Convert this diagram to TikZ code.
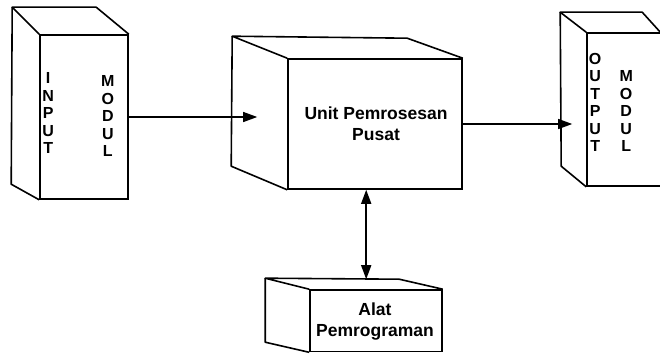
\documentclass[tikz,border=0pt]{standalone}
\usepackage{fontspec}
\setmainfont{Liberation Sans}
\usetikzlibrary{arrows.meta,positioning,calc}
\tikzset{
  face/.style={draw,line width=1.6pt,fill=white,inner sep=0pt},
  side/.style={draw,line width=1.6pt,line join=round},
  label/.style={font=\bfseries\fontsize{17.5}{21}\selectfont,align=center,inner sep=0pt},
  letters/.style={font=\bfseries\fontsize{16}{17.5}\selectfont,align=center,inner sep=0pt},
  flow/.style={-{Triangle[length=14pt,width=10pt]},line width=1.2pt},
  both/.style={{Triangle[length=14pt,width=10pt]}-{Triangle[length=14pt,width=10pt]},line width=1.6pt}
}
\begin{document}
\begin{tikzpicture}[x=1pt,y=-1pt]
  \clip (0,0) rectangle (660,353);
  % input module
  \node[face,minimum width=88pt,minimum height=164pt] (input) at (84,117) {};
  \draw[side] (input.north west) -- ++(-27,-27) -- ++(84,0) -- (input.north east);
  \draw[side] (input.north west) ++(-27,-27) -- ++(-1,177) -- (input.south west);
  \node[letters] (inword) at ($(input.west)+(9,-4)$) {I\\N\\P\\U\\T};
  \node[letters] (inmodul) at ($(input.east)+(-21,-1)$) {M\\O\\D\\U\\L};
  % central processing unit
  \node[face,minimum width=174pt,minimum height=130pt] (cpu) at (375,124) {};
  \draw[side] (cpu.north west) -- ++(-55,-22) -- ++(175,2) -- (cpu.north east);
  \draw[side] (cpu.north west) ++(-55,-22) -- ++(-1,130) -- (cpu.south west);
  \node[label] (cpulbl) at ($(cpu.center)+(1,0)$) {Unit Pemrosesan\\Pusat};
  % output module
  \node[face,minimum width=113pt,minimum height=153pt] (output) at (643.5,109.5) {};
  \draw[side] (output.north west) -- ++(-26,-20) -- ++(82,0) -- ++(19,21);
  \draw[side] (output.north west) ++(-26,-20) -- ++(1,154) -- (output.south west);
  \node[letters] (outword) at ($(output.north west)+(9,70)$) {O\\U\\T\\P\\U\\T};
  \node[letters] (outmodul) at ($(output.north west)+(40,79)$) {M\\O\\D\\U\\L};
  % programming device
  \node[face,minimum width=132pt,minimum height=61.5pt] (prog) at (376,320.75) {};
  \draw[side] (prog.north west) -- ++(-44,-11) -- ++(134,1) -- (prog.north east);
  \draw[side] (prog.north west) ++(-44,-11) -- ++(0,64) -- (prog.south west);
  \node[label] (proglbl) at ($(prog.center)+(-1,1)$) {Alat\\Pemrograman};
  % connectors
  \coordinate (cpuin) at ($(cpu.west)+(-30,0)$);
  \coordinate (outin) at ($(output.west)+(-14,0)$);
  \coordinate (progin) at ($(prog.north west)+(57,-10)$);
  \draw[flow] (input.east) -- (input.east -| cpuin);
  \draw[flow] (cpu.east) -- (cpu.east -| outin);
  \draw[both] (progin |- cpu.south) -- (progin);
\end{tikzpicture}
\end{document}
